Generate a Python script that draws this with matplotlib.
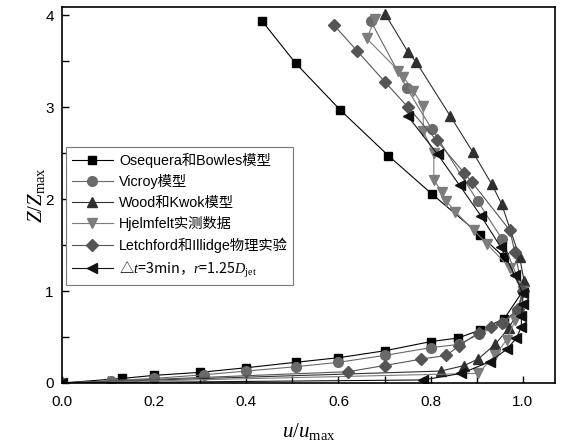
import matplotlib.pyplot as plt
from matplotlib.ticker import MultipleLocator

plt.rcParams['font.family'] = ['Liberation Sans', 'Noto Sans CJK SC']
plt.rcParams['mathtext.fontset'] = 'custom'
plt.rcParams['mathtext.rm'] = 'Liberation Serif'
plt.rcParams['mathtext.it'] = 'Liberation Serif:italic'

# 各模型 u/umax 与 Z/Zmax
oseq_u = [0.434, 0.507, 0.604, 0.708, 0.802, 0.908, 0.959, 1.0, 0.96, 0.907, 0.86, 0.80, 0.70,
          0.60, 0.507, 0.40, 0.30, 0.20, 0.131, 0.0]
oseq_z = [3.94, 3.48, 2.97, 2.475, 2.06, 1.61, 1.37, 1.0, 0.70, 0.576, 0.49, 0.45, 0.35,
          0.275, 0.225, 0.166, 0.116, 0.083, 0.05, 0.0]

vic_u = [0.670, 0.748, 0.803, 0.902, 0.955, 1.0, 0.988, 0.957, 0.905, 0.861, 0.80, 0.70,
         0.60, 0.507, 0.40, 0.309, 0.20, 0.106, 0.0]
vic_z = [3.94, 3.21, 2.76, 1.98, 1.565, 1.0, 0.78, 0.655, 0.53, 0.42, 0.384, 0.30,
         0.225, 0.177, 0.13, 0.09, 0.05, 0.025, 0.0]

wk_u = [0.702, 0.751, 0.769, 0.842, 0.892, 0.933, 0.954, 0.993, 1.003, 0.993, 0.97, 0.94,
        0.903, 0.873, 0.822, 0.0]
wk_z = [4.01, 3.60, 3.49, 2.91, 2.51, 2.16, 1.95, 1.37, 1.11, 0.80, 0.60, 0.42,
        0.26, 0.19, 0.13, 0.0]

hj_u = [0.68, 0.661, 0.730, 0.741, 0.762, 0.784, 0.784, 0.807, 0.807, 0.824, 0.834, 0.854,
        0.894, 0.923, 0.972, 1.0, 0.984, 0.965, 0.94, 0.903, 0.0]
hj_z = [3.96, 3.75, 3.40, 3.33, 3.18, 3.01, 2.74, 2.50, 2.21, 2.08, 1.98, 1.86,
        1.66, 1.51, 1.25, 1.0, 0.685, 0.47, 0.30, 0.105, 0.0]

let_u = [0.591, 0.641, 0.702, 0.751, 0.813, 0.872, 0.889, 0.972, 0.983, 1.0, 0.99, 0.954,
         0.932, 0.904, 0.862, 0.834, 0.78, 0.70, 0.621, 0.0]
let_z = [3.89, 3.61, 3.27, 3.00, 2.64, 2.29, 2.19, 1.66, 1.42, 1.0, 0.80, 0.655,
         0.61, 0.547, 0.405, 0.30, 0.26, 0.19, 0.123, 0.0]

dt_u = [0.751, 0.815, 0.863, 0.909, 0.952, 0.983, 1.0, 1.0, 0.997, 0.997, 0.986, 0.965,
        0.928, 0.867, 0.784, 0.0]
dt_z = [2.90, 2.49, 2.15, 1.82, 1.48, 1.17, 0.975, 0.86, 0.73, 0.61, 0.486, 0.366,
        0.23, 0.105, 0.033, 0.0]

labels = ['Osequera和Bowles模型', 'Vicroy模型', 'Wood和Kwok模型', 'Hjelmfelt实测数据',
          'Letchford和Illidge物理实验', '△$t$=3min，$r$=1.25$D_{\\rm jet}$']

fig, ax = plt.subplots(figsize=(5.71, 4.44), dpi=100)
fig.subplots_adjust(left=0.1086, right=0.972, top=0.984, bottom=0.1374)

series = [
    (oseq_u, oseq_z, 's', '#000000', 6),
    (vic_u, vic_z, 'o', '#6a6a6a', 7),
    (wk_u, wk_z, '^', '#303030', 7.5),
    (hj_u, hj_z, 'v', '#7c7c7c', 7.5),
    (let_u, let_z, 'D', '#555555', 6),
    (dt_u, dt_z, '<', '#111111', 7.5),
]
for (u, z, m, c, ms), lab in zip(series, labels):
    ax.plot(u, z, marker=m, color=c, ms=ms, lw=0.8, mec=c, mfc=c, label=lab)

ax.set_xlim(0, 1.07)
ax.set_ylim(0, 4.09)
ax.xaxis.set_major_locator(MultipleLocator(0.2))
ax.xaxis.set_minor_locator(MultipleLocator(0.1))
ax.yaxis.set_major_locator(MultipleLocator(1))
ax.yaxis.set_minor_locator(MultipleLocator(0.5))
ax.xaxis.set_major_formatter(plt.FuncFormatter(lambda v, p: '%.1f' % v))
ax.tick_params(which='both', direction='in', length=5, width=1, labelsize=11)
ax.tick_params(axis='x', pad=9)
ax.tick_params(axis='y', pad=6)
for s in ax.spines.values():
    s.set_linewidth(1.2)

ax.set_xlabel('$u/u_{\\rm max}$', fontsize=15, labelpad=8)
ax.set_ylabel('$Z/Z_{\\rm max}$', fontsize=15, labelpad=-1)

leg = ax.legend(loc='upper left', bbox_to_anchor=(0.008, 0.628), fontsize=10.3,
                handlelength=2.9, fancybox=False, edgecolor='#777777', framealpha=1,
                borderaxespad=0, labelspacing=0.45, handletextpad=0.4)
leg.get_frame().set_linewidth(0.8)
# 最后一行含 △ 和全角逗号，用中文字体
leg.get_texts()[-1].set_fontfamily('Noto Sans CJK SC')

fig.savefig('out.png', dpi=100)
